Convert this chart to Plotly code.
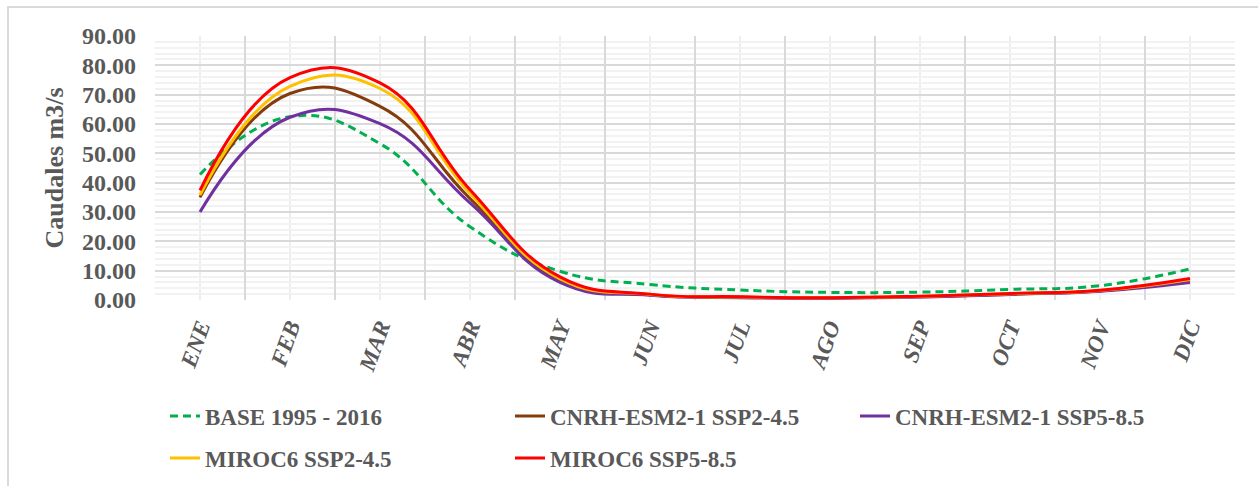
import plotly.graph_objects as go

months = ["ENE", "FEB", "MAR", "ABR", "MAY", "JUN", "JUL", "AGO", "SEP", "OCT", "NOV", "DIC"]

base_1995_2016 = [42.8, 62.5, 53.3, 25.0, 9.8, 5.3, 3.4, 2.6, 2.7, 3.6, 4.9, 10.6]
cnrh_ssp245 = [35.0, 70.4, 66.0, 34.6, 6.7, 1.8, 1.0, 0.7, 1.1, 2.0, 3.1, 6.6]
cnrh_ssp585 = [30.0, 62.3, 60.1, 33.1, 6.0, 1.6, 0.8, 0.6, 1.0, 1.9, 3.0, 6.0]
miroc_ssp245 = [35.8, 72.8, 72.1, 36.3, 7.2, 1.9, 1.0, 0.8, 1.2, 2.1, 3.2, 7.0]
miroc_ssp585 = [37.4, 75.8, 74.0, 37.6, 7.9, 2.0, 1.1, 0.8, 1.3, 2.2, 3.3, 7.3]

series_names = ["BASE 1995 - 2016", "CNRH-ESM2-1 SSP2-4.5", "CNRH-ESM2-1 SSP5-8.5",
                "MIROC6 SSP2-4.5", "MIROC6 SSP5-8.5"]
series_values = [base_1995_2016, cnrh_ssp245, cnrh_ssp585, miroc_ssp245, miroc_ssp585]
series_colors = ["#00B050", "#843C0C", "#7030A0", "#FFC000", "#FF0000"]
series_dash = ["8px,5px", "solid", "solid", "solid", "solid"]
series_legend = ["legend", "legend", "legend", "legend2", "legend2"]

W, H = 1258, 486
L, R, T, B = 155, 23, 36, 186
pw, ph = W - L - R, H - T - B

def px_x(x):
    return (x - L) / pw

def px_y(y):
    return (H - B - y) / ph

FONT = "Liberation Serif, Times New Roman, serif"
GREY = "#595959"

fig = go.Figure()
for name, vals, col, dash, lg in zip(series_names, series_values, series_colors, series_dash, series_legend):
    fig.add_trace(go.Scatter(
        x=months, y=vals, name=name, mode="lines",
        line=dict(color=col, width=3, dash=dash, shape="spline", smoothing=1.3),
        legend=lg,
    ))

shapes = []
# minor vertical gridlines at category centers
for m in months:
    shapes.append(dict(type="line", xref="x", yref="paper", x0=m, x1=m, y0=0, y1=1,
                       line=dict(color="#EEEEEE", width=2), layer="below"))
# chart border
shapes.append(dict(type="rect", xref="paper", yref="paper",
                   x0=px_x(8), x1=px_x(1275), y0=px_y(500), y1=px_y(7),
                   line=dict(color="#D9D9D9", width=2), layer="below"))

leg_font = dict(family=FONT, size=23, color=GREY, weight="bold")

fig.update_layout(
    width=W, height=H,
    margin=dict(l=L, r=R, t=T, b=B, autoexpand=False),
    paper_bgcolor="white", plot_bgcolor="white",
    font=dict(family=FONT, color=GREY),
    shapes=shapes,
    showlegend=True,
    legend=dict(orientation="h", x=px_x(165), y=px_y(416), xanchor="left", yanchor="middle",
                font=leg_font, entrywidth=300, entrywidthmode="pixels",
                bgcolor="rgba(0,0,0,0)"),
    legend2=dict(orientation="h", x=px_x(165), y=px_y(458), xanchor="left", yanchor="middle",
                 font=leg_font, entrywidth=300, entrywidthmode="pixels",
                 bgcolor="rgba(0,0,0,0)"),
    xaxis=dict(type="category", categoryorder="array", categoryarray=months,
               range=[-0.5, 11.5], tickson="boundaries", automargin=False,
               showgrid=True, gridcolor="#D9D9D9", gridwidth=2,
               showline=False, zeroline=False, ticks="",
               tickangle=-70, ticklabelstandoff=8,
               tickfont=dict(family=FONT, size=23, color=GREY, weight="bold", style="italic")),
    yaxis=dict(range=[0, 90], dtick=10, tickformat=".2f", automargin=False,
               showgrid=True, gridcolor="#D9D9D9", gridwidth=2,
               minor=dict(dtick=2, showgrid=True, gridcolor="#F2F2F2", gridwidth=1.5),
               showline=False, zeroline=False, ticks="", ticklabelstandoff=18,
               tickfont=dict(family=FONT, size=24, color=GREY, weight="bold"),
               title=dict(text="Caudales m3/s", standoff=10,
                          font=dict(family=FONT, size=26, color=GREY, weight="bold"))),
)

fig.write_html("out.html")
